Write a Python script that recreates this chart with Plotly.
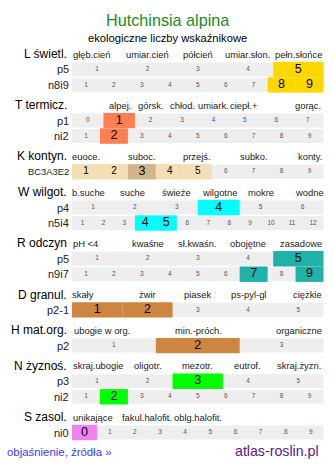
import plotly.graph_objects as go

# ---------------- data ----------------
title = "Hutchinsia alpina"
subtitle = "ekologiczne liczby wskaźnikowe"
footer_left = "objaśnienie, źródła »"
footer_right = "atlas-roslin.pl"

sec_names = ["L świetl.", "T termicz.", "K kontyn.", "W wilgot.", "R odczyn",
             "D granul.", "H mat.org.", "N żyznoś.", "S zasol."]
sec_labels = [
    ["głęb.cień", "umiar.cień", "półcień", "umiar.słon.", "pełn.słońce"],
    ["alpej.", "górsk.", "chłod.", "umiark.", "ciepł.+", "gorąc."],
    ["euoce.", "suboc.", "przejś.", "subko.", "konty."],
    ["b.suche", "suche", "świeże", "wilgotne", "mokre", "wodne"],
    ["pH <4", "kwaśne", "sł.kwaśn.", "obojętne", "zasadowe"],
    ["skały", "żwir", "piasek", "ps-pyl-gl", "ciężkie"],
    ["ubogie w org.", "min.-próch.", "organiczne"],
    ["skraj.ubogie", "oligotr.", "mezotr.", "eutrof.", "skraj.żyzn."],
    ["unikające", "fakul.halofit.", "oblg.halofit."],
]
row_labels = [["p5", "n8i9"], ["p1", "ni2"], ["BC3A3E2"], ["p4", "n5i4"], ["p5", "n9i7"],
              ["p2-1"], ["p2"], ["p3", "ni2"], ["ni0"]]
row_first = [[1, 1], [0, 1], [1], [1, 1], [1, 1], [1], [1], [1, 1], [0]]
row_last = [[5, 9], [7, 9], [9], [6, 12], [5, 9], [5], [3], [5, 9], [9]]
row_marked = [[[5], [8, 9]], [[1], [2]], [[1, 2, 3, 4, 5]], [[4], [4, 5]], [[5], [7, 9]],
              [[1, 2]], [[2]], [[3], [2]], [[0]]]
k_strong = [3]

# ---------------- layout / style ----------------
W, H = 334, 469
FONT = "Liberation Sans, Arial, sans-serif"
sec_colors = ["#ffd700", "#ff7f50", "#f5deb3", "#00ffff", "#20b2aa",
              "#cd853f", "#cd853f", "#00ff00", "#ee82ee"]
k_strong_color = "#d2b48c"
label_x = [
    [92, 147, 197.5, 247.5, 298.5],
    [120, 151, 182, 213, 244, 308],
    [85.5, 141.5, 197, 253.5, 309.5],
    [88.8, 132, 176, 219, 261, 309],
    [85, 148, 197.5, 247.5, 300.5],
    [83.3, 147.7, 197.3, 248.3, 307.7],
    [101.7, 198.3, 299.3],
    [98.3, 148, 197.7, 247, 298.7],
    [92.5, 147, 197.5],
]
X0, X1 = 72, 323.5
HDR_TO_ROW, ROW_STEP, ROW_TO_HDR = 15.4, 15.5, 20.3
BG_T, HI_T = 14, 15.4
GRAY = "#eeeeee"

bg_y, bg_x, bg_b = [], [], []
hi_y, hi_x, hi_b, hi_c = [], [], [], []
t_x, t_y, t_t, t_s = [], [], [], []
anns = []


def ann(x, y, text, size, color="#000000", xanchor="center"):
    anns.append(dict(x=x, y=y, xref="x", yref="y", text=text, showarrow=False,
                     xanchor=xanchor, yanchor="middle",
                     font=dict(family=FONT, size=size, color=color)))


ann(167, 20, title, 16.2, "#228b22")
ann(167, 38, subtitle, 11.2, "#000000")

y = 54
for s in range(len(sec_names)):
    ann(68.5, y, sec_names[s], 12, "#000000", "right")
    for lab, lx in zip(sec_labels[s], label_x[s]):
        ann(lx, y, lab, 9.4, "#222222")
    y += HDR_TO_ROW
    for r in range(len(row_labels[s])):
        if r > 0:
            y += ROW_STEP
        lab = row_labels[s][r]
        ann(70.5, y, lab, 9.4 if len(lab) > 5 else 11, "#222222", "right")
        first, last = row_first[s][r], row_last[s][r]
        n = last - first + 1
        w = (X1 - X0) / n
        bg_y.append(y); bg_x.append(X1 - X0); bg_b.append(X0)
        for v in range(first, last + 1):
            i = v - first
            cx = X0 + (i + 0.5) * w
            t_x.append(cx); t_y.append(y); t_t.append(str(v))
            if v in row_marked[s][r]:
                hi_y.append(y); hi_x.append(w); hi_b.append(X0 + i * w)
                if s == 2:
                    strong = v in k_strong
                    hi_c.append(k_strong_color if strong else sec_colors[s])
                    t_s.append(12.5 if strong else 10)
                else:
                    hi_c.append(sec_colors[s])
                    t_s.append(12.5)
            else:
                t_s.append(6.5)
    y += ROW_TO_HDR

ann(59, 452.3, footer_left, 11.4, "#3a3aff")
ann(276.5, 450.7, footer_right, 14.2, "#5a1a8a")

t_col = ["#000000" if sz > 7 else "#555555" for sz in t_s]

fig = go.Figure()
fig.add_trace(go.Bar(orientation="h", y=bg_y, x=bg_x, base=bg_b, width=[BG_T] * len(bg_y),
                     marker=dict(color=GRAY, line=dict(width=0)), hoverinfo="skip"))
fig.add_trace(go.Bar(orientation="h", y=hi_y, x=hi_x, base=hi_b, width=[HI_T] * len(hi_y),
                     marker=dict(color=hi_c, line=dict(width=0)), hoverinfo="skip"))
fig.add_trace(go.Scatter(x=t_x, y=t_y, text=t_t, mode="text", textposition="middle center",
                         textfont=dict(family=FONT, size=t_s, color=t_col), hoverinfo="skip"))

fig.update_layout(
    width=W, height=H, autosize=False,
    margin=dict(l=0, r=0, t=0, b=0, pad=0),
    paper_bgcolor="white", plot_bgcolor="white",
    barmode="overlay", showlegend=False, hovermode=False,
    xaxis=dict(range=[0, W], visible=False, fixedrange=True),
    yaxis=dict(range=[H, 0], visible=False, fixedrange=True),
    annotations=anns,
)
fig.write_html("out.html", config={"displayModeBar": False})
